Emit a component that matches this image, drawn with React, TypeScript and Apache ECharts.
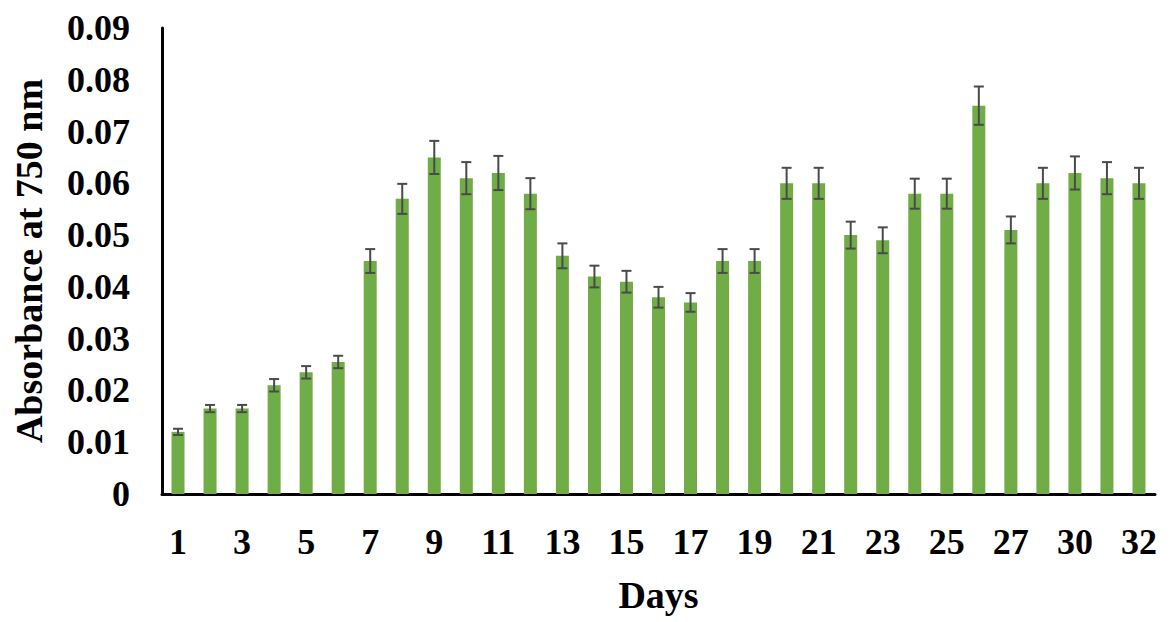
import React, { useEffect, useRef } from "react";
import * as echarts from "echarts";

const days = ["1","2","3","4","5","6","7","8","9","10","11","12","13","14","15","16","17","18","19","20","21","22","23","24","25","26","27","28","30","31","32"];
const absorbance = [0.012,0.0165,0.0165,0.021,0.0235,0.0255,0.045,0.057,0.065,0.061,0.062,0.058,0.046,0.042,0.041,0.038,0.037,0.045,0.045,0.060,0.060,0.050,0.049,0.058,0.058,0.075,0.051,0.060,0.062,0.061,0.060];
const errors = [0.0006,0.0007,0.0007,0.0012,0.0012,0.0012,0.0023,0.0029,0.0032,0.0031,0.0033,0.003,0.0024,0.0021,0.0021,0.002,0.0018,0.0023,0.0023,0.003,0.003,0.0026,0.0025,0.0029,0.0029,0.0037,0.0026,0.003,0.0032,0.0031,0.003];
const yTicks = [0, 0.01, 0.02, 0.03, 0.04, 0.05, 0.06, 0.07, 0.08, 0.09];

const FONT = "'Liberation Serif', 'Times New Roman', serif";

export default function App() {
  const ref = useRef<HTMLDivElement>(null);
  useEffect(() => {
    if (!ref.current) return;
    const chart = echarts.init(ref.current, null, { renderer: "svg" });
    const errData = absorbance.map((v, i) => [i, v - errors[i], v + errors[i]]);
    chart.setOption({
      animation: false,
      backgroundColor: "#ffffff",
      grid: { left: 154, right: 7, top: 20, bottom: 128, outerBoundsMode: "none", containLabel: false },
      xAxis: {
        type: "category",
        data: days,
        name: "Days",
        nameLocation: "middle",
        nameGap: 82,
        nameTextStyle: { fontFamily: FONT, fontWeight: "bold", fontSize: 38, color: "#000" },
        axisLine: { lineStyle: { color: "#000", width: 3 } },
        axisTick: { show: false },
        axisLabel: { interval: 1, margin: 30, fontFamily: FONT, fontWeight: "bold", fontSize: 36, color: "#000" },
      },
      yAxis: {
        type: "value",
        min: 0,
        max: yTicks[yTicks.length - 1],
        interval: 0.01,
        name: "Absorbance at 750 nm",
        nameLocation: "middle",
        nameGap: 114,
        nameTextStyle: { fontFamily: FONT, fontWeight: "bold", fontSize: 38, color: "#000" },
        axisLine: { show: true, lineStyle: { color: "#000", width: 3 } },
        axisTick: { show: false },
        splitLine: { show: false },
        axisLabel: {
          margin: 32,
          fontFamily: FONT,
          fontWeight: "bold",
          fontSize: 36,
          color: "#000",
          formatter: (v: number) => (v === 0 ? "0" : v.toFixed(2)),
        },
      },
      series: [
        {
          type: "bar",
          data: absorbance,
          barWidth: 13,
          itemStyle: { color: "#70AD47" },
        },
        {
          type: "custom",
          data: errData,
          z: 10,
          renderItem: (params: any, api: any) => {
            const x = api.value(0);
            const lo = api.coord([x, api.value(1)]);
            const hi = api.coord([x, api.value(2)]);
            const half = 5;
            const style = { stroke: "#4a4a4a", lineWidth: 2 };
            return {
              type: "group",
              children: [
                { type: "line", shape: { x1: lo[0], y1: lo[1], x2: hi[0], y2: hi[1] }, style },
                { type: "line", shape: { x1: hi[0] - half, y1: hi[1], x2: hi[0] + half, y2: hi[1] }, style },
                { type: "line", shape: { x1: lo[0] - half, y1: lo[1], x2: lo[0] + half, y2: lo[1] }, style },
              ],
            };
          },
        },
      ],
    });
    return () => chart.dispose();
  }, []);
  return <div ref={ref} style={{ width: 1154, height: 614 }} />;
}
